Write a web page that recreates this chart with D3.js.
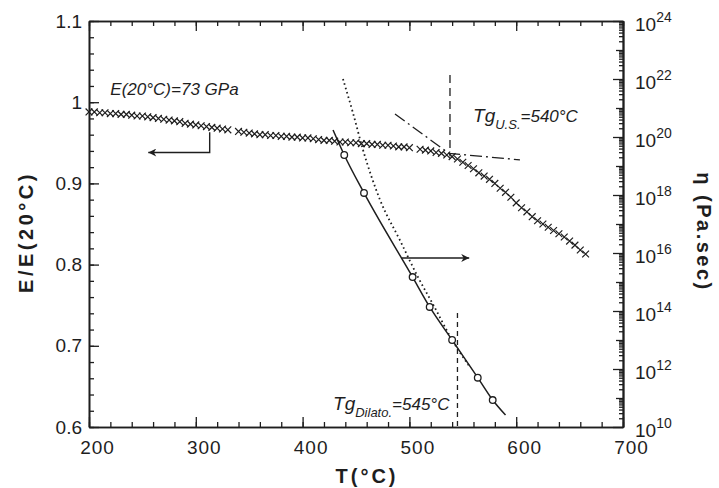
<!DOCTYPE html>
<html>
<head>
<meta charset="utf-8">
<script src="https://cdn.jsdelivr.net/npm/d3@7"></script>
<style>
  body { margin: 0; background: #fff; }
  text { font-family: "Liberation Sans", Arial, sans-serif; fill: #1e1e1e; }
</style>
</head>
<body>
<script>
// Young's modulus ratio E/E(20°C)
const tE = [200, 205, 210, 215, 220, 225, 230, 235, 240, 245, 250, 255, 260, 265, 270, 275, 280, 285, 290, 295,
  300, 305, 310, 315, 320, 325, 330, 340, 345, 350, 355, 360, 365, 370, 375, 380, 385, 390, 395,
  400, 405, 410, 415, 420, 425, 430, 435, 440, 445, 450, 455, 460, 465, 470, 475, 480, 485, 490, 495,
  500, 510, 515, 520, 525, 530, 535, 540, 545, 550, 555, 560, 565, 570, 575, 580, 585, 590, 595,
  600, 605, 610, 615, 620, 625, 630, 635, 640, 645, 650, 655, 660, 665]
const eRatio = [0.988, 0.988, 0.987, 0.987, 0.986, 0.986, 0.985, 0.985, 0.984, 0.983, 0.983, 0.982, 0.981, 0.980, 0.979, 0.978, 0.977, 0.976, 0.974, 0.973,
  0.972, 0.971, 0.970, 0.969, 0.968, 0.967, 0.966, 0.964, 0.963, 0.962, 0.961, 0.960, 0.960, 0.959, 0.959, 0.958, 0.958, 0.957, 0.957,
  0.956, 0.956, 0.955, 0.954, 0.953, 0.953, 0.952, 0.951, 0.951, 0.950, 0.950, 0.949, 0.949, 0.948, 0.948, 0.947, 0.947, 0.946, 0.945, 0.945,
  0.944, 0.942, 0.941, 0.940, 0.938, 0.937, 0.935, 0.933, 0.930, 0.926, 0.922, 0.918, 0.913, 0.909, 0.905, 0.900, 0.894, 0.889, 0.883,
  0.876, 0.870, 0.865, 0.859, 0.854, 0.850, 0.846, 0.842, 0.838, 0.834, 0.829, 0.824, 0.818, 0.813]

// viscosity (log10 of Pa.s): measured points, fitted curve, dotted curve
const tVisc = [439, 457.5, 503, 519, 540, 564, 578]
const logVisc = [19.38, 18.07, 15.17, 14.14, 13.0, 11.7, 10.93]
const tFit = [428.5, 439, 457.5, 503, 519, 540, 564, 578, 590]
const logFit = [20.24, 19.38, 18.07, 15.17, 14.14, 13.0, 11.7, 10.93, 10.41]
const tDot = [437.8, 447, 456.6, 472.5, 491, 508, 523, 540, 556]
const logDot = [22.0, 20.85, 19.55, 17.83, 16.45, 15.17, 14.17, 13.0, 12.1]

// dash-dot tangent lines on the modulus curve
const tTan = [486.5, 537, 603.5]
const eTan = [0.9855, 0.937, 0.929]

const xTicks = [200, 300, 400, 500, 600, 700]
const yTicks = [0.6, 0.7, 0.8, 0.9, 1, 1.1]
const etaExp = [10, 12, 14, 16, 18, 20, 22, 24]

const W = 719, H = 488
const mLeft = 89, mRight = 623, mTop = 21, mBottom = 427

const svg = d3.select('body').append('svg')
  .attr('width', W)
  .attr('height', H)

const x = d3.scaleLinear().domain([200, 700]).range([mLeft, mRight])
const yL = d3.scaleLinear().domain([0.6, 1.1]).range([mBottom, mTop])
const yR = d3.scaleLog().domain([1e10, 1e24]).range([mBottom, mTop])

const ink = '#1e1e1e'

// ---- axes ----
function styleAxis(g) {
  g.select('.domain').attr('stroke', ink).attr('stroke-width', 1.6)
  g.selectAll('.tick line').attr('stroke', ink).attr('stroke-width', 1.3)
  g.selectAll('.tick text').attr('font-size', 19).attr('fill', ink)
}

const xMinor = d3.range(200, 701, 20)
svg.append('g').attr('transform', `translate(0,${mBottom})`)
  .call(d3.axisBottom(x).tickValues(xMinor).tickSize(-5).tickSizeOuter(0).tickFormat(''))
  .call(styleAxis)
svg.append('g').attr('transform', `translate(0,${mBottom})`)
  .call(d3.axisBottom(x).tickValues(xTicks).tickSize(-10).tickSizeOuter(0).tickPadding(14).tickFormat(d3.format('d')))
  .call(styleAxis)
  .call(g => g.selectAll('.tick text').attr('dx', 8).attr('letter-spacing', 1))
svg.append('g').attr('transform', `translate(0,${mTop})`)
  .call(d3.axisTop(x).tickValues(xMinor).tickSize(-5).tickSizeOuter(0).tickFormat(''))
  .call(styleAxis)
svg.append('g').attr('transform', `translate(0,${mTop})`)
  .call(d3.axisTop(x).tickValues(xTicks).tickSize(-10).tickSizeOuter(0).tickFormat(''))
  .call(styleAxis)

const yMinor = d3.range(0.6, 1.1001, 0.02)
svg.append('g').attr('transform', `translate(${mLeft},0)`)
  .call(d3.axisLeft(yL).tickValues(yMinor).tickSize(-5).tickSizeOuter(0).tickFormat(''))
  .call(styleAxis)
svg.append('g').attr('transform', `translate(${mLeft},0)`)
  .call(d3.axisLeft(yL).tickValues(yTicks).tickSize(-10).tickSizeOuter(0).tickPadding(7).tickFormat(d => d === 1 ? '1' : d3.format('.1f')(d)))
  .call(styleAxis)

// right log axis: minor 2..9 per decade, odd decades medium, even decades long
const rMinor = []
for (let e = 10; e < 24; e++) for (let k = 2; k <= 9; k++) rMinor.push(k * Math.pow(10, e))
const rMid = d3.range(11, 24, 2).map(e => Math.pow(10, e))
const rMajor = etaExp.map(e => Math.pow(10, e))
svg.append('g').attr('transform', `translate(${mRight},0)`)
  .call(d3.axisRight(yR).tickValues(rMinor).tickSize(-4).tickSizeOuter(0).tickFormat(''))
  .call(styleAxis)
svg.append('g').attr('transform', `translate(${mRight},0)`)
  .call(d3.axisRight(yR).tickValues(rMid).tickSize(-7).tickSizeOuter(0).tickFormat(''))
  .call(styleAxis)
const rAx = svg.append('g').attr('transform', `translate(${mRight},0)`)
  .call(d3.axisRight(yR).tickValues(rMajor).tickSize(-10).tickSizeOuter(0).tickFormat(''))
  .call(styleAxis)
rAx.selectAll('.tick').data(etaExp).append('text')
  .attr('x', 12).attr('y', 9)
  .attr('font-size', 19)
  .attr('fill', ink)
  .text('10')
  .append('tspan')
  .attr('font-size', 14)
  .attr('dy', -9)
  .text(d => d)

// ---- series ----
const eData = tE.map((t, i) => [t, eRatio[i]])
const s = 3.4
svg.append('g').selectAll('path')
  .data(eData)
  .enter()
  .append('path')
  .attr('d', d => {
    const px = x(d[0]), py = yL(d[1])
    return `M${px - s},${py - s}L${px + s},${py + s}M${px - s},${py + s}L${px + s},${py - s}`
  })
  .attr('stroke', ink)
  .attr('stroke-width', 1.2)
  .attr('fill', 'none')

const lineR = d3.line().x(d => x(d[0])).y(d => yR(Math.pow(10, d[1]))).curve(d3.curveMonotoneX)

svg.append('path')
  .datum(tFit.map((t, i) => [t, logFit[i]]))
  .attr('d', lineR)
  .attr('fill', 'none')
  .attr('stroke', ink)
  .attr('stroke-width', 1.5)

svg.append('path')
  .datum(tDot.map((t, i) => [t, logDot[i]]))
  .attr('d', lineR)
  .attr('fill', 'none')
  .attr('stroke', ink)
  .attr('stroke-width', 1.8)
  .attr('stroke-dasharray', '1.6,3')

svg.append('g').selectAll('circle')
  .data(tVisc.map((t, i) => [t, logVisc[i]]))
  .enter()
  .append('circle')
  .attr('cx', d => x(d[0]))
  .attr('cy', d => yR(Math.pow(10, d[1])))
  .attr('r', 3.3)
  .attr('fill', '#fff')
  .attr('stroke', ink)
  .attr('stroke-width', 1.3)

// tangent construction (dash-dot)
svg.append('path')
  .datum(tTan.map((t, i) => [t, eTan[i]]))
  .attr('d', d3.line().x(d => x(d[0])).y(d => yL(d[1])))
  .attr('fill', 'none')
  .attr('stroke', ink)
  .attr('stroke-width', 1.3)
  .attr('stroke-dasharray', '12,4,2,4')

// Tg markers
svg.append('line')
  .attr('x1', x(538)).attr('x2', x(538))
  .attr('y1', yL(1.0335)).attr('y2', yL(0.933))
  .attr('stroke', ink).attr('stroke-width', 1.3)
  .attr('stroke-dasharray', '8,5')
svg.append('line')
  .attr('x1', x(545)).attr('x2', x(545))
  .attr('y1', yR(Math.pow(10, 13.93))).attr('y2', yR(1e10))
  .attr('stroke', ink).attr('stroke-width', 1.3)
  .attr('stroke-dasharray', '5,4')

// arrows
svg.append('defs').append('marker')
  .attr('id', 'head')
  .attr('viewBox', '0 0 10 10')
  .attr('refX', 10).attr('refY', 5)
  .attr('markerWidth', 14).attr('markerHeight', 8)
  .attr('markerUnits', 'userSpaceOnUse')
  .attr('orient', 'auto')
  .append('path').attr('d', 'M0,0L10,5L0,10L3,5Z').attr('fill', ink)

svg.append('path')
  .attr('d', `M${x(313)},${yL(0.963)}V${yL(0.938)}H${x(255.5)}`)
  .attr('fill', 'none').attr('stroke', ink).attr('stroke-width', 1.4)
  .attr('marker-end', 'url(#head)')
svg.append('path')
  .attr('d', `M${x(493)},${yR(Math.pow(10, 15.83))}H${x(556)}`)
  .attr('fill', 'none').attr('stroke', ink).attr('stroke-width', 1.4)
  .attr('marker-end', 'url(#head)')

// ---- annotations ----
svg.append('text')
  .attr('x', x(220)).attr('y', yL(1.009))
  .attr('font-size', 17).attr('font-style', 'italic')
  .text('E(20°C)=73 GPa')

const tgUS = svg.append('text')
  .attr('x', x(559.6)).attr('y', yL(0.9756))
  .attr('font-size', 19).attr('font-style', 'italic')
tgUS.append('tspan').text('Tg')
tgUS.append('tspan').attr('font-size', 13).attr('dy', 7).text('U.S.')
tgUS.append('tspan').attr('font-size', 17).attr('dy', -7).text('=540°C')

const tgD = svg.append('text')
  .attr('x', x(428.5)).attr('y', yR(Math.pow(10, 10.59)))
  .attr('font-size', 19).attr('font-style', 'italic')
tgD.append('tspan').text('Tg')
tgD.append('tspan').attr('font-size', 13).attr('dy', 7).text('Dilato.')
tgD.append('tspan').attr('font-size', 17).attr('dy', -7).text('=545°C')

// axis titles
svg.append('text')
  .attr('transform', `translate(33,232) rotate(-90)`)
  .attr('text-anchor', 'middle')
  .attr('font-size', 20).attr('font-weight', 'bold')
  .attr('letter-spacing', 3.5)
  .text('E/E(20°C)')

svg.append('text')
  .attr('x', 367).attr('y', 483)
  .attr('text-anchor', 'middle')
  .attr('font-size', 20).attr('font-weight', 'bold')
  .attr('letter-spacing', 3)
  .text('T(°C)')

svg.append('text')
  .attr('transform', `translate(697,232) rotate(90)`)
  .attr('text-anchor', 'middle')
  .attr('font-size', 20).attr('font-weight', 'bold')
  .attr('letter-spacing', 2.5)
  .text('η   (Pa.sec)')
</script>
</body>
</html>
